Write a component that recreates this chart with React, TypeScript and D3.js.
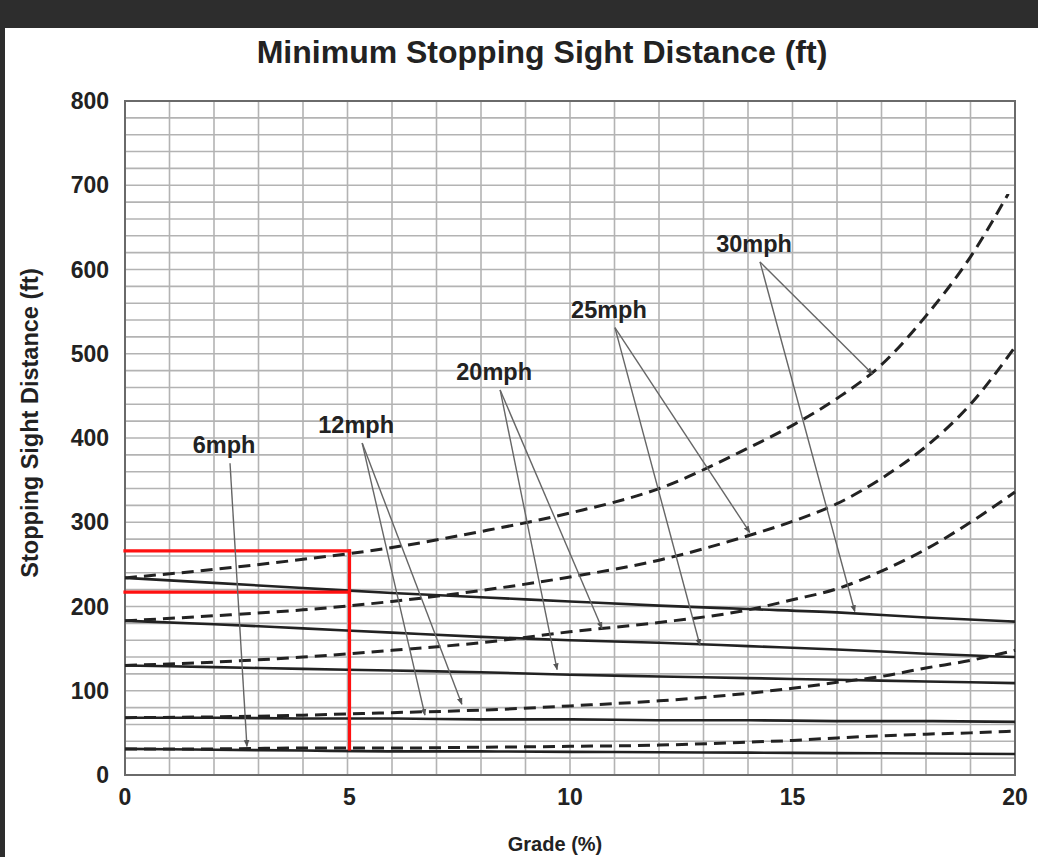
import React from "react";
import * as d3 from "d3";

// chart values
const gradeTicks = [0, 5, 10, 15, 20];
const distanceTicks = [0, 100, 200, 300, 400, 500, 600, 700, 800];

const speeds = ["6mph", "12mph", "20mph", "25mph", "30mph"];

// downgrade (dashed) curves
const downGrades = [0, 2, 4, 6, 8, 10, 12, 14, 15, 16, 17, 18, 19, 20];
const downGrades30 = [0, 2, 4, 6, 8, 10, 12, 14, 15, 16, 17, 18, 19, 19.85];
const down6 = [31, 31, 32, 32, 33, 34, 35.5, 39, 41, 44, 46.5, 48.5, 50, 52];
const down12 = [68, 69, 71, 74, 77, 82, 88, 97, 103, 110, 117, 127, 136, 148];
const down20 = [130, 134, 140, 148, 157, 170, 181, 196, 208, 221, 242, 268, 300, 336];
const down25 = [183, 189, 196, 206, 219, 235, 255, 284, 301, 322, 352, 390, 440, 508];
const down30 = [234, 244, 256, 270, 289, 311, 340, 388, 415, 447, 487, 545, 615, 690];

// upgrade (solid) curves
const upGrades = [0, 2, 4, 6, 8, 10, 12, 14, 16, 18, 20];
const up6 = [31, 30, 29, 28, 28, 27.5, 27, 26.5, 26, 25.5, 25];
const up12 = [68, 68, 67, 67, 66, 66, 65, 65, 64, 64, 63];
const up20 = [130, 128, 126, 124, 122, 119, 117, 115, 113, 111, 109];
const up25 = [183, 179, 174, 169, 164, 160, 157, 153, 149, 144, 140];
const up30 = [234, 228, 222, 216, 211, 206, 201, 197, 193, 187, 182];

// callouts: where each label's leader lines start, and where they point (grade, ft)
const calloutStart = [
  [2.36, 370],
  [5.33, 394],
  [8.43, 457],
  [11.01, 531],
  [14.27, 609],
];
const calloutEnds = [
  [[2.74, 34]],
  [[6.74, 71], [7.57, 84]],
  [[9.71, 125], [10.72, 174]],
  [[12.92, 154], [14.04, 288]],
  [[16.4, 194], [16.8, 476]],
];

// red read-off marks at 5% grade
const redMarks = [
  [[0, 266], [5, 266]],
  [[5, 266], [5, 31]],
  [[0, 217], [5, 217]],
];

const W = 1038;
const H = 857;
const left = 125;
const right = 1015;
const top = 101;
const bottom = 775;
const font = "'Liberation Sans', Arial, sans-serif";
const ink = "#222";

const App = () => {
  const x = d3.scaleLinear().domain([0, 20]).range([left, right]);
  const y = d3.scaleLinear().domain([0, 800]).range([bottom, top]);

  const line = d3
    .line<number[]>()
    .x((d) => x(d[0]))
    .y((d) => y(d[1]))
    .curve(d3.curveMonotoneX);

  const zip = (gs: number[], vs: number[]) => gs.map((g, i) => [g, vs[i]]);

  const dashed = [
    zip(downGrades, down6),
    zip(downGrades, down12),
    zip(downGrades, down20),
    zip(downGrades, down25),
    zip(downGrades30, down30),
  ];
  const solid = [
    zip(upGrades, up6),
    zip(upGrades, up12),
    zip(upGrades, up20),
    zip(upGrades, up25),
    zip(upGrades, up30),
  ];

  return (
    <svg
      width={W}
      height={H}
      style={{ position: "absolute", left: 0, top: 0, background: "#fff" }}
    >
      <defs>
        <marker
          id="tip"
          viewBox="0 0 10 10"
          refX="9"
          refY="5"
          markerWidth="5"
          markerHeight="5"
          orient="auto"
        >
          <path d="M0,1 L10,5 L0,9 z" fill="#555" />
        </marker>
      </defs>

      {/* dark scan edges */}
      <rect x={0} y={0} width={W} height={28} fill="#2d2d2d" />
      <rect x={0} y={0} width={5} height={H} fill="#2d2d2d" />

      {/* grid */}
      <g stroke="#b3b3b3" strokeWidth={1.6}>
        {x.ticks(20).map((t) => (
          <line key={"gx" + t} x1={x(t)} x2={x(t)} y1={top} y2={bottom} />
        ))}
        {y.ticks(40).map((t) => (
          <line key={"gy" + t} x1={left} x2={right} y1={y(t)} y2={y(t)} />
        ))}
      </g>
      <rect
        x={left}
        y={top}
        width={right - left}
        height={bottom - top}
        fill="none"
        stroke="#6a6a6a"
        strokeWidth={2}
      />

      {/* curves */}
      {solid.map((pts, i) => (
        <path
          key={"s" + i}
          d={line(pts) || ""}
          fill="none"
          stroke={ink}
          strokeWidth={2.6}
        />
      ))}
      {dashed.map((pts, i) => (
        <path
          key={"d" + i}
          d={line(pts) || ""}
          fill="none"
          stroke={ink}
          strokeWidth={3}
          strokeDasharray="12,7"
        />
      ))}

      {/* red read-off marks */}
      {redMarks.map((seg, i) => (
        <line
          key={"r" + i}
          x1={x(seg[0][0]) + (seg[0][0] === 5 ? 2 : 0)}
          y1={y(seg[0][1])}
          x2={x(seg[1][0]) + 2}
          y2={y(seg[1][1])}
          stroke="#ff1010"
          strokeWidth={3.2}
          strokeLinecap="square"
        />
      ))}

      {/* callouts */}
      {speeds.map((s, i) => {
        const [g0, v0] = calloutStart[i];
        return (
          <g key={"c" + s}>
            {calloutEnds[i].map((e, j) => (
              <line
                key={j}
                x1={x(g0)}
                y1={y(v0)}
                x2={x(e[0])}
                y2={y(e[1])}
                stroke="#666"
                strokeWidth={1.4}
                markerEnd="url(#tip)"
              />
            ))}
            <text
              x={x(g0) - 6}
              y={y(v0) - 10}
              textAnchor="middle"
              fontFamily={font}
              fontWeight="bold"
              fontSize={23.5}
              fill={ink}
            >
              {s}
            </text>
          </g>
        );
      })}

      {/* axes labels */}
      {distanceTicks.map((t) => (
        <text
          key={"yl" + t}
          x={left - 16}
          y={y(t)}
          dy="0.35em"
          textAnchor="end"
          fontFamily={font}
          fontWeight="bold"
          fontSize={23}
          fill={ink}
        >
          {t}
        </text>
      ))}
      {gradeTicks.map((t) => (
        <text
          key={"xl" + t}
          x={x(t) + (t === 5 ? 2 : 0)}
          y={bottom + 30}
          textAnchor="middle"
          fontFamily={font}
          fontWeight="bold"
          fontSize={23}
          fill={ink}
        >
          {t}
        </text>
      ))}

      <text
        x={542}
        y={63}
        textAnchor="middle"
        fontFamily={font}
        fontWeight="bold"
        fontSize={32}
        fill={ink}
      >
        Minimum Stopping Sight Distance (ft)
      </text>
      <text
        x={555}
        y={851}
        textAnchor="middle"
        fontFamily={font}
        fontWeight="bold"
        fontSize={20}
        fill={ink}
      >
        Grade (%)
      </text>
      <text
        transform={`translate(38, 423) rotate(-90)`}
        textAnchor="middle"
        fontFamily={font}
        fontWeight="bold"
        fontSize={23.5}
        fill={ink}
      >
        Stopping Sight Distance (ft)
      </text>
    </svg>
  );
};

export default App;
